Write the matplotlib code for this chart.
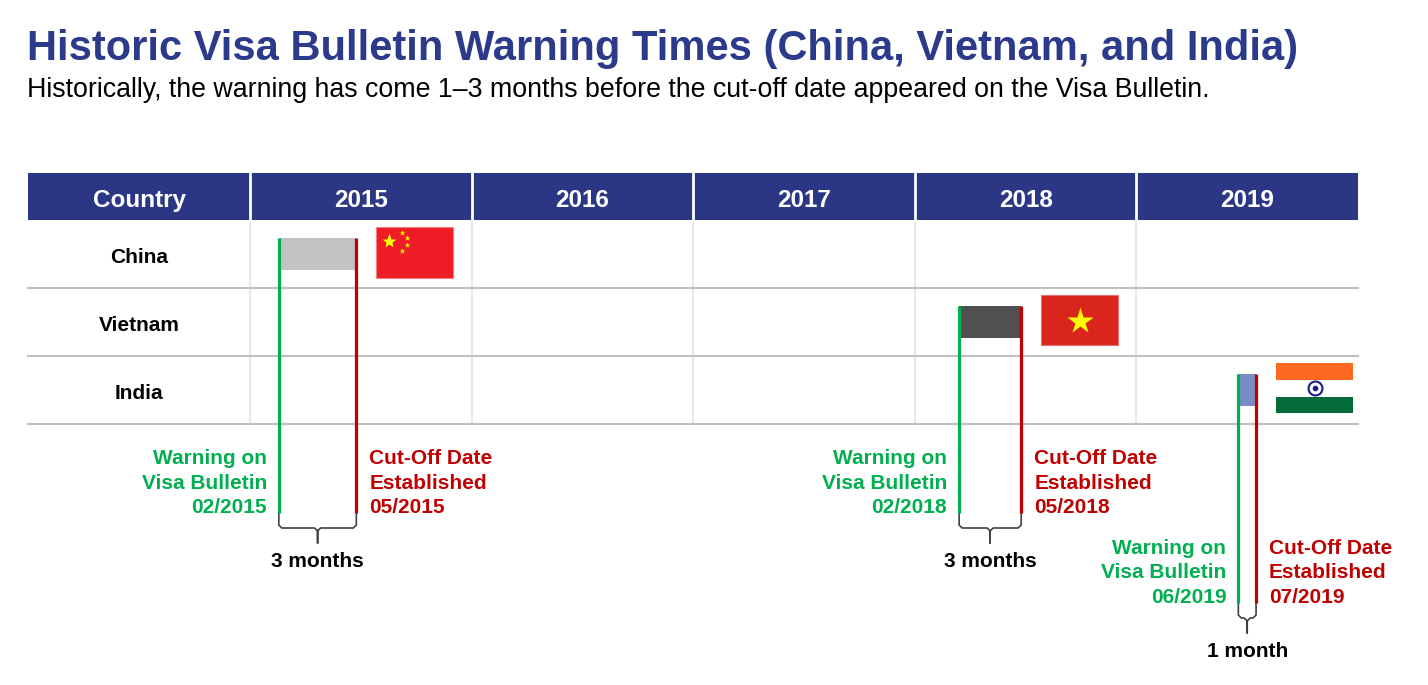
import matplotlib
matplotlib.use("Agg")
import matplotlib.pyplot as plt
from matplotlib.patches import Rectangle

plt.rcParams["font.family"] = ["Liberation Sans", "DejaVu Sans"]

# data
countries = ["China", "Vietnam", "India"]
years = [2015, 2016, 2017, 2018, 2019]
# positions of the two vertical markers on the timeline (fractional years)
warning_pos = [2015.13, 2018.20, 2019.46]
cutoff_pos = [2015.48, 2018.48, 2019.54]
warning_dates = ["02/2015", "02/2018", "06/2019"]
cutoff_dates = ["05/2015", "05/2018", "07/2019"]
gap_labels = ["3 months", "3 months", "1 month"]
bar_colors = ["#c3c3c3", "#505050", "#7a8cc6"]

NAVY = "#2b3784"
GREEN = "#00b050"
RED = "#c00000"

# layout: x axis in years, y axis in pixels (top down)
PX_PER_YEAR = 221.6
X0 = 2015 - 250 / PX_PER_YEAR


def px(dx):
    return dx / PX_PER_YEAR


fig = plt.figure(figsize=(14.28, 6.85), dpi=100)
ax = fig.add_axes([0, 0, 1, 1])
ax.set_xlim(X0, X0 + 1428 / PX_PER_YEAR)
ax.set_ylim(685, 0)
ax.axis("off")

# title
ax.text(X0 + px(27), 60, "Historic Visa Bulletin Warning Times (China, Vietnam, and India)",
        fontsize=30, fontweight="bold", color="#2b3a8a", va="baseline", ha="left")
ax.text(X0 + px(27), 97, "Historically, the warning has come 1\u20133 months before the cut-off date "
        "appeared on the Visa Bulletin.", fontsize=19.3, color="black", va="baseline", ha="left")

# table
left = years[0] - 1
right = years[-1] + 1
header_top, header_bot = 173, 220
row_h = 68
ax.add_patch(Rectangle((left, header_top), right - left, header_bot - header_top,
                       facecolor=NAVY, edgecolor="none"))
for yr in years:
    ax.plot([yr, yr], [header_top, header_bot], color="white", lw=2)
    ax.plot([yr, yr], [header_bot, header_bot + row_h * len(countries)], color="#e4e6f2", lw=1.5,
            zorder=0)
ax.text(left + 0.5, 206.5, "Country", color="white", fontsize=17.5, fontweight="bold",
        ha="center", va="baseline")
for yr in years:
    ax.text(yr + 0.5, 206.5, str(yr), color="white", fontsize=17.5, fontweight="bold",
            ha="center", va="baseline")

for i, name in enumerate(countries):
    top = header_bot + i * row_h
    ax.plot([left, right], [top + row_h, top + row_h], color="#c0c0c0", lw=1.5, zorder=0)
    ax.text(left + 0.5, top + 42.5, name, fontsize=15, fontweight="bold", ha="center",
            va="baseline")


def brace(x0, x1, y, color="#404040"):
    xc = (x0 + x1) / 2
    h = y + 15
    t = y + 30
    r = px(3)
    xs = [x0, x0, x0 + r, xc - r, xc, xc, xc, xc + r, x1 - r, x1, x1]
    ys = [y, h - 3, h, h, h + 3, t, h + 3, h, h, h - 3, y]
    ax.plot(xs, ys, color=color, lw=1.2, solid_joinstyle="round")


line_ends = [513, 513, 603]
for i in range(len(countries)):
    top = header_bot + i * row_h + 18
    w, c = warning_pos[i], cutoff_pos[i]
    end = line_ends[i]
    ax.add_patch(Rectangle((w, top), c - w, 32, facecolor=bar_colors[i], edgecolor="none",
                           zorder=2))
    ax.plot([w, w], [top, end], color=GREEN, lw=2.3, zorder=3, solid_capstyle="butt")
    ax.plot([c, c], [top, end], color=RED, lw=2.3, zorder=3, solid_capstyle="butt")

    for k, s in enumerate(["Warning on", "Visa Bulletin", warning_dates[i]]):
        ax.text(w - px(12), end - 49 + 24.5 * k, s, color=GREEN, fontsize=15,
                fontweight="bold", ha="right", va="baseline")
    for k, s in enumerate(["Cut-Off Date", "Established", cutoff_dates[i]]):
        ax.text(c + px(13), end - 49 + 24.5 * k, s, color=RED, fontsize=15,
                fontweight="bold", ha="left", va="baseline")

    brace(w, c, end)
    ax.text((w + c) / 2, end + 54, gap_labels[i], fontsize=15, fontweight="bold",
            ha="center", va="baseline")

# flags
fl_w = px(77)
fl_h = 51
for i, name in enumerate(countries):
    fx = cutoff_pos[i] + px(20)
    fy = header_bot + i * row_h + 7
    if name == "China":
        ax.add_patch(Rectangle((fx, fy), fl_w, fl_h, facecolor="#ee1c25",
                               edgecolor="#f47c80", lw=0.8, zorder=2))
        ax.plot(fx + px(12.7), fy + 14, marker="*", ms=11, color="#ffff00", mec="none",
                zorder=3)
        for dx, dy in [(25.7, 5.7), (31, 10.7), (31, 18.3), (25.7, 24)]:
            ax.plot(fx + px(dx), fy + dy, marker="*", ms=4, color="#ffff00", mec="none",
                    zorder=3)
    elif name == "Vietnam":
        ax.add_patch(Rectangle((fx, fy), fl_w, fl_h - 1, facecolor="#da251d",
                               edgecolor="#e87070", lw=0.8, zorder=2))
        ax.plot(fx + fl_w / 2, fy + 26, marker="*", ms=20, color="#ffff00", mec="none",
                zorder=3)
    else:
        ax.add_patch(Rectangle((fx, fy), fl_w, 17, facecolor="#ff6820", edgecolor="none",
                               zorder=2))
        ax.add_patch(Rectangle((fx, fy + 34), fl_w, 16, facecolor="#046a38",
                               edgecolor="none", zorder=2))
        ax.plot(fx + fl_w / 2, fy + 25, marker="o", ms=10, mfc="white", mec="#1a1a8a",
                mew=1.5, zorder=3)
        ax.plot(fx + fl_w / 2, fy + 25, marker="o", ms=3, color="#1a1a8a", zorder=3)

plt.savefig("out.png", dpi=100)
plt.close()
